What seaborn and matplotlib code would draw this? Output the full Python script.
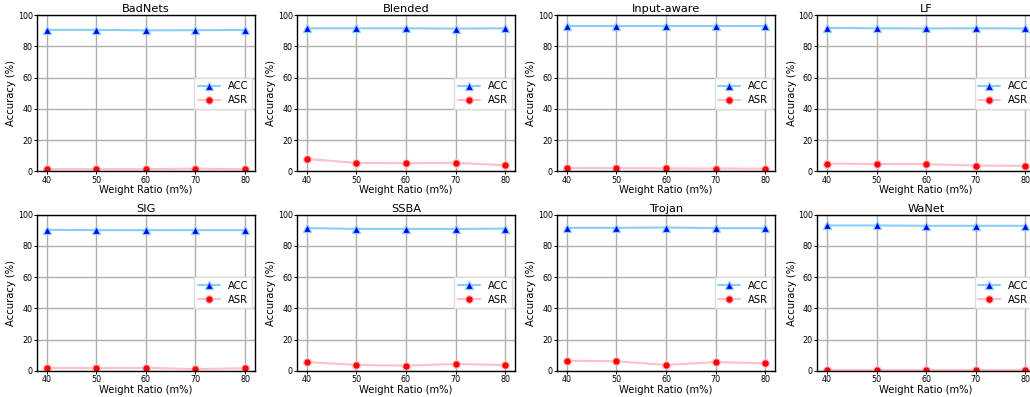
import matplotlib
matplotlib.use("Agg")
import matplotlib.pyplot as plt
import seaborn as sns
import pandas as pd

# Weight ratios on the x axis
ratios = [40, 50, 60, 70, 80]

attacks = ["BadNets", "Blended", "Input-aware", "LF", "SIG", "SSBA", "Trojan", "WaNet"]

acc = {
    "BadNets":     [90.5, 90.5, 90.2, 90.3, 90.4],
    "Blended":     [91.5, 91.5, 91.5, 91.3, 91.5],
    "Input-aware": [92.8, 92.8, 92.8, 92.8, 92.8],
    "LF":          [91.8, 91.5, 91.4, 91.5, 91.4],
    "SIG":         [90.2, 90.0, 90.0, 90.0, 90.0],
    "SSBA":        [91.3, 90.8, 90.8, 90.8, 91.0],
    "Trojan":      [91.5, 91.5, 91.7, 91.3, 91.3],
    "WaNet":       [93.0, 93.0, 92.8, 92.8, 92.8],
}

asr = {
    "BadNets":     [1.5, 1.5, 1.5, 1.8, 1.4],
    "Blended":     [8.0, 5.5, 5.3, 5.5, 4.0],
    "Input-aware": [2.2, 2.1, 2.0, 1.9, 1.8],
    "LF":          [5.0, 4.8, 4.7, 3.8, 3.6],
    "SIG":         [2.0, 1.8, 2.0, 1.2, 1.8],
    "SSBA":        [5.7, 3.9, 3.4, 4.5, 3.8],
    "Trojan":      [6.6, 6.2, 3.9, 5.7, 4.9],
    "WaNet":       [0.9, 0.9, 0.9, 0.9, 0.9],
}

sns.set_style("whitegrid")
plt.rcParams['font.family'] = ['DejaVu Sans']
plt.rcParams['axes.edgecolor'] = 'black'
plt.rcParams['axes.linewidth'] = 1.0
plt.rcParams['grid.color'] = '#b0b0b0'
plt.rcParams['grid.linewidth'] = 1.0
plt.rcParams['xtick.bottom'] = True
plt.rcParams['ytick.left'] = True
plt.rcParams['xtick.major.size'] = 2
plt.rcParams['ytick.major.size'] = 2
plt.rcParams['xtick.major.width'] = 0.7
plt.rcParams['ytick.major.width'] = 0.7
plt.rcParams['xtick.color'] = 'black'
plt.rcParams['ytick.color'] = 'black'
plt.rcParams['text.color'] = 'black'
plt.rcParams['axes.labelcolor'] = 'black'

fig, axes = plt.subplots(2, 4, figsize=(10.3, 3.97), dpi=100)

for ax, name in zip(axes.flat, attacks):
    df = pd.DataFrame({"ratio": ratios, "ACC": acc[name], "ASR": asr[name]})
    sns.lineplot(data=df, x="ratio", y="ACC", ax=ax, color='#87cefa', linewidth=1.5,
                 marker='^', markersize=6, markerfacecolor='blue',
                 markeredgecolor='#87cefa', markeredgewidth=0.9, label='ACC')
    sns.lineplot(data=df, x="ratio", y="ASR", ax=ax, color='pink', linewidth=1.5,
                 marker='o', markersize=5.5, markerfacecolor='red',
                 markeredgecolor='pink', markeredgewidth=0.9, label='ASR')
    ax.set_title(name, fontsize=8.2, pad=2)
    ax.set_xlabel('Weight Ratio (m%)', fontsize=7.2, labelpad=0.5)
    ax.set_ylabel('Accuracy (%)', fontsize=7.2, labelpad=1)
    ax.set_ylim(0, 100)
    ax.set_xlim(38, 82)
    ax.set_xticks(ratios)
    ax.set_yticks([0, 20, 40, 60, 80, 100])
    ax.tick_params(labelsize=5.8, pad=1)
    ax.legend(loc='center right', fontsize=7.2, fancybox=False, framealpha=1.0,
              edgecolor='#dddddd', handlelength=2.2, borderpad=0.35,
              labelspacing=0.4, borderaxespad=0.3)

plt.subplots_adjust(left=0.0359, right=1.0049, top=0.9622, bottom=0.0655,
                    wspace=0.193, hspace=0.275)
plt.savefig('out.png', dpi=100)
